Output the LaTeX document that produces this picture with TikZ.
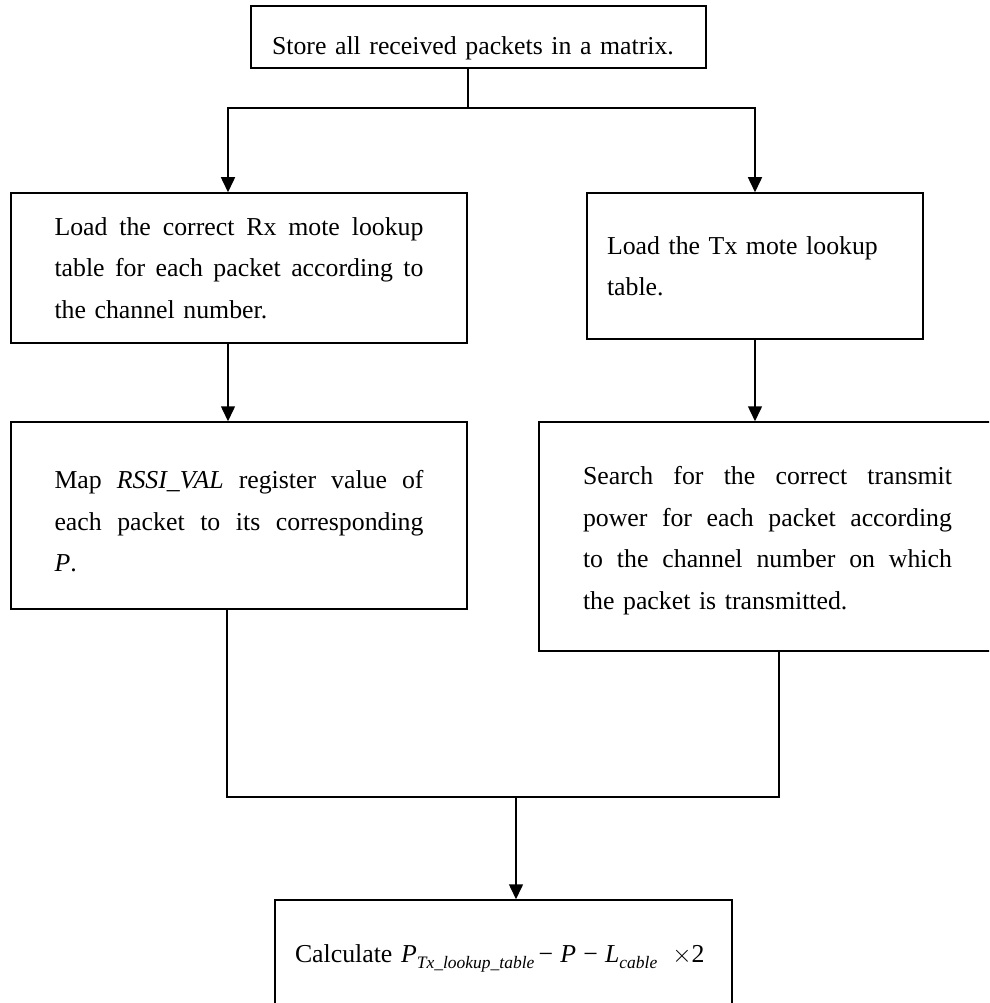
\documentclass[tikz,border=0pt]{standalone}
\usepackage{fontspec}
\setmainfont{Liberation Serif}
\usetikzlibrary{arrows.meta}
% lowered italic subscript used in the formula
\newcommand{\lowsub}[1]{\raisebox{-6pt}{\fontsize{17.5}{17.5}\selectfont\itshape #1}}
% one fully justified text line (stretchable interword glue restored)
\newcommand{\jline}[1]{{\spaceskip=0pt\xspaceskip=0pt\makebox[369pt][s]{#1}}}
% invisible height strut on a first line, pushing a text block down in its box
\newcommand{\tallstrut}[1]{\rule{0pt}{#1}}
\begin{document}
\begin{tikzpicture}[x=1pt,y=-1pt,
  every node/.style={font=\fontsize{25.8}{41.5}\selectfont},
  procbox/.style={draw, line width=1.5pt, rectangle, inner sep=0pt, align=left},
  link/.style={line width=1.5pt},
  arr/.style={link, -{Triangle[width=14pt,length=15pt]}}]
\useasboundingbox (0,0) rectangle (989,1003);
\clip (0,0) rectangle (989,1003);

% process boxes
\node[procbox, minimum width=455pt, minimum height=62pt, text width=413pt,
      text height=40pt, text depth=4pt] (store) at (478.5,37)
  {\mbox{Store all received packets in a matrix.}};
\node[procbox, minimum width=456pt, minimum height=150pt, text width=369pt] (rxload) at (239,268)
  {\jline{Load the correct Rx mote lookup}\\
   \jline{table for each packet according to}\\
   the channel number.};
\node[procbox, minimum width=336pt, minimum height=146pt, text width=296pt] (txload) at (755,266)
  {Load the Tx mote lookup\\table.};
\node[procbox, minimum width=456pt, minimum height=187pt, text width=369pt] (rssimap) at (239,515.5)
  {\tallstrut{30pt}\jline{Map \textit{RSSI\_VAL} register value of}\\
   \jline{each packet to its corresponding}\\
   \textit{P}.};
\node[procbox, minimum width=457pt, minimum height=229pt, text width=369pt] (txsearch) at (767.5,536.5)
  {\tallstrut{26pt}\jline{Search for the correct transmit}\\
   \jline{power for each packet according}\\
   \jline{to the channel number on which}\\
   the packet is transmitted.};
\node[procbox, minimum width=457pt, minimum height=106pt, text width=417pt,
      text height=24pt, text depth=6pt] (calc) at (503.5,953)
  {\mbox{Calculate \textit{P}\lowsub{Tx\_lookup\_table}\,−\;\textit{P}\;−\;\textit{L}\lowsub{cable}\hspace{15pt}$\times$2}};

% split after the first step
\coordinate (split) at (468,108);
\draw[link] (store.south -| split) -- (split);
\draw[arr] (split) -| ([xshift=-11pt]rxload.north);
\draw[arr] (split) -| (txload.north);
\draw[arr] ([xshift=-11pt]rxload.south) -- ([xshift=-11pt]rssimap.north);
\draw[arr] (txload.south) -- (txload.south |- txsearch.north);

% merge of both branches
\coordinate (jl) at (227,797);
\coordinate (jr) at (779,797);
\coordinate (jm) at (516,797);
\draw[link] (rssimap.south -| jl) -- (jl) -- (jr) -- (txsearch.south -| jr);
\draw[arr] (jm) -- (calc.north -| jm);
\end{tikzpicture}
\end{document}
